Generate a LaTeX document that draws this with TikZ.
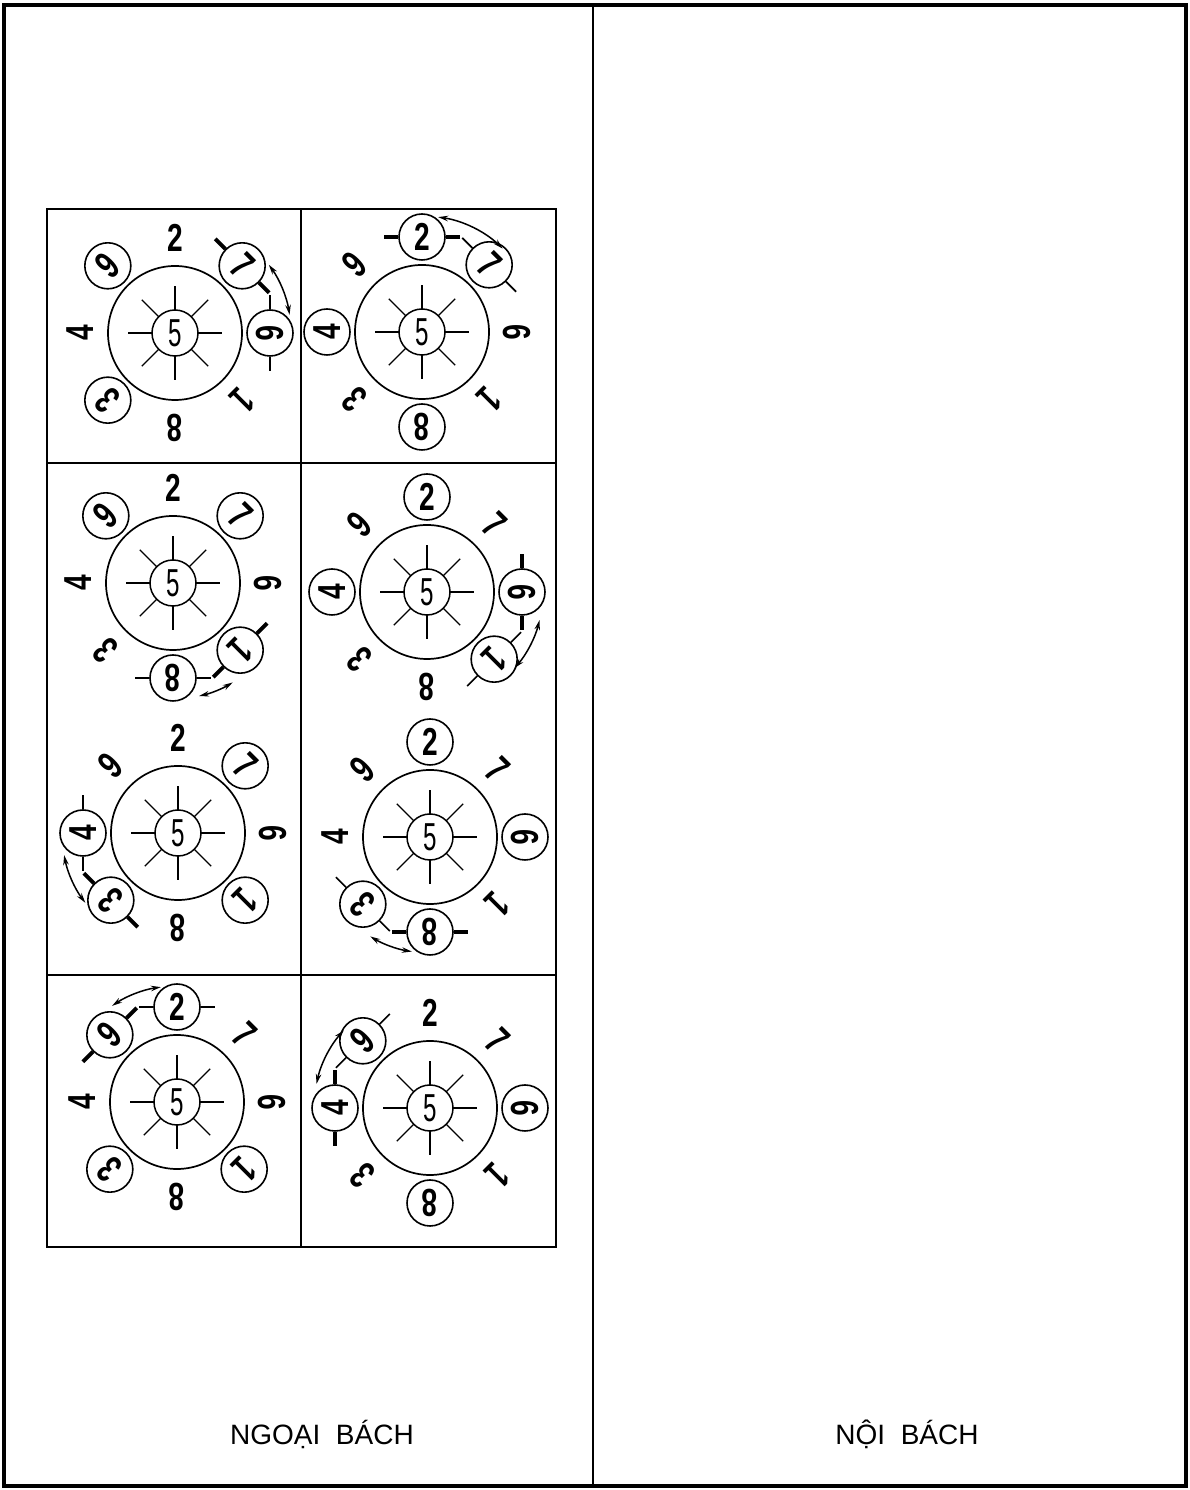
\documentclass[tikz,border=0pt]{standalone}
\usepackage{fontspec}
\setmainfont{Liberation Sans}
\usetikzlibrary{calc,arrows.meta}
\newcommand\dg[1]{\scalebox{0.72}[1]{\bfseries #1}}
\newcommand\fv{\scalebox{0.62}[1]{5}}
\newcommand\ninecell[4]{%
  \node[bigc] (#1) at #2 {};
  \node[innc] (#1five) at #2 {\fv};
  \foreach \a in {0,45,...,315} \draw[ray] ($(#1five)+(\a:23)$) -- ($(#1five)+(\a:47)$);
  \foreach \d/\a in {#3} \node[dig,rotate=\a-90] (#1d\d) at ($(#1)+(\a:95)$) {\dg{\d}};
  \foreach \d/\a in {#4} \node[dig,circd,rotate=\a-90] (#1d\d) at ($(#1)+(\a:95)$) {\dg{\d}};
}
\newcommand\tickpair[2]{%
  \draw[#2] (#1.east) -- ($(#1.center)!1.6!(#1.east)$);
  \draw[#2] (#1.west) -- ($(#1.center)!1.6!(#1.west)$);
}
\newcommand\swaparc[3]{%
  \draw[dbl] ($(#1)+(#2:116)$) arc[start angle=#2,end angle=#3,radius=116];
}
\begin{document}
\begin{tikzpicture}[x=1pt,y=1pt,
  bigc/.style={draw,circle,line width=1.7pt,minimum size=134pt,inner sep=0pt},
  innc/.style={draw,circle,line width=1.5pt,minimum size=46pt,inner sep=0pt,font=\fontsize{39}{39}\selectfont},
  ray/.style={line width=1.2pt},
  dig/.style={inner sep=0pt,minimum size=46pt,circle,font=\fontsize{39}{39}\selectfont},
  circd/.style={draw,line width=1.6pt},
  tk/.style={line width=1.6pt},
  tkb/.style={line width=4pt},
  dbl/.style={line width=1.5pt,{Stealth[length=10pt,width=5.5pt]}-{Stealth[length=10pt,width=5.5pt]}},
  frame/.style={line width=3.5pt},
  gridl/.style={line width=2pt},
  lab/.style={font=\fontsize{28}{28}\selectfont}]
\useasboundingbox (0,0) rectangle (1189,1490);
% outer frame
\draw[frame] (4,4) rectangle (1186,1485);
\draw[gridl] (593,1485) -- (593,4);
% grid
\draw[gridl] (47,1281) rectangle (556,243);
\draw[gridl] (300.5,1281) -- (300.5,243);
\draw[gridl] (47,1027) -- (556,1027);
\draw[gridl] (47,515) -- (556,515);
% cells
\ninecell{c1}{(175,1157)}{2/90,8/-90,4/180,1/-45}{9/135,3/-135,7/45,6/0}
\tickpair{c1d7}{tkb}\tickpair{c1d6}{tk}\swaparc{c1}{36}{9}
\ninecell{c2}{(422,1158)}{9/135,6/0,1/-45,3/-135}{2/90,7/45,4/180,8/-90}
\tickpair{c2d2}{tkb}\tickpair{c2d7}{tk}\swaparc{c2}{82}{46}
\ninecell{c3}{(173,907)}{2/90,6/0,3/-135,4/180}{9/135,7/45,1/-45,8/-90}
\tickpair{c3d1}{tkb}\tickpair{c3d8}{tk}\swaparc{c3}{-77}{-59}
\ninecell{c4}{(427,898)}{9/135,7/45,3/-135,8/-90}{2/90,4/180,6/0,1/-45}
\tickpair{c4d6}{tkb}\tickpair{c4d1}{tk}\swaparc{c4}{-14}{-41}
\ninecell{c5}{(178,657)}{9/135,2/90,6/0,8/-90}{4/180,3/-135,7/45,1/-45}
\tickpair{c5d4}{tk}\tickpair{c5d3}{tkb}\swaparc{c5}{191}{217}
\ninecell{c6}{(430,653)}{9/135,7/45,4/180,1/-45}{2/90,6/0,3/-135,8/-90}
\tickpair{c6d3}{tk}\tickpair{c6d8}{tkb}\swaparc{c6}{239}{261}
\ninecell{c7}{(177,388)}{7/45,6/0,4/180,8/-90}{9/135,2/90,3/-135,1/-45}
\tickpair{c7d9}{tkb}\tickpair{c7d2}{tk}\swaparc{c7}{124}{98}
\ninecell{c8}{(430,382)}{2/90,7/45,3/-135,1/-45}{9/135,4/180,6/0,8/-90}
\tickpair{c8d9}{tk}\tickpair{c8d4}{tkb}\swaparc{c8}{168}{138}
% labels
\node[lab] (ngoai) at (322,56) {NGOẠI\ \ BÁCH};
\node[lab] (noi) at (907,56) {NỘI\ \ BÁCH};
\end{tikzpicture}
\end{document}
